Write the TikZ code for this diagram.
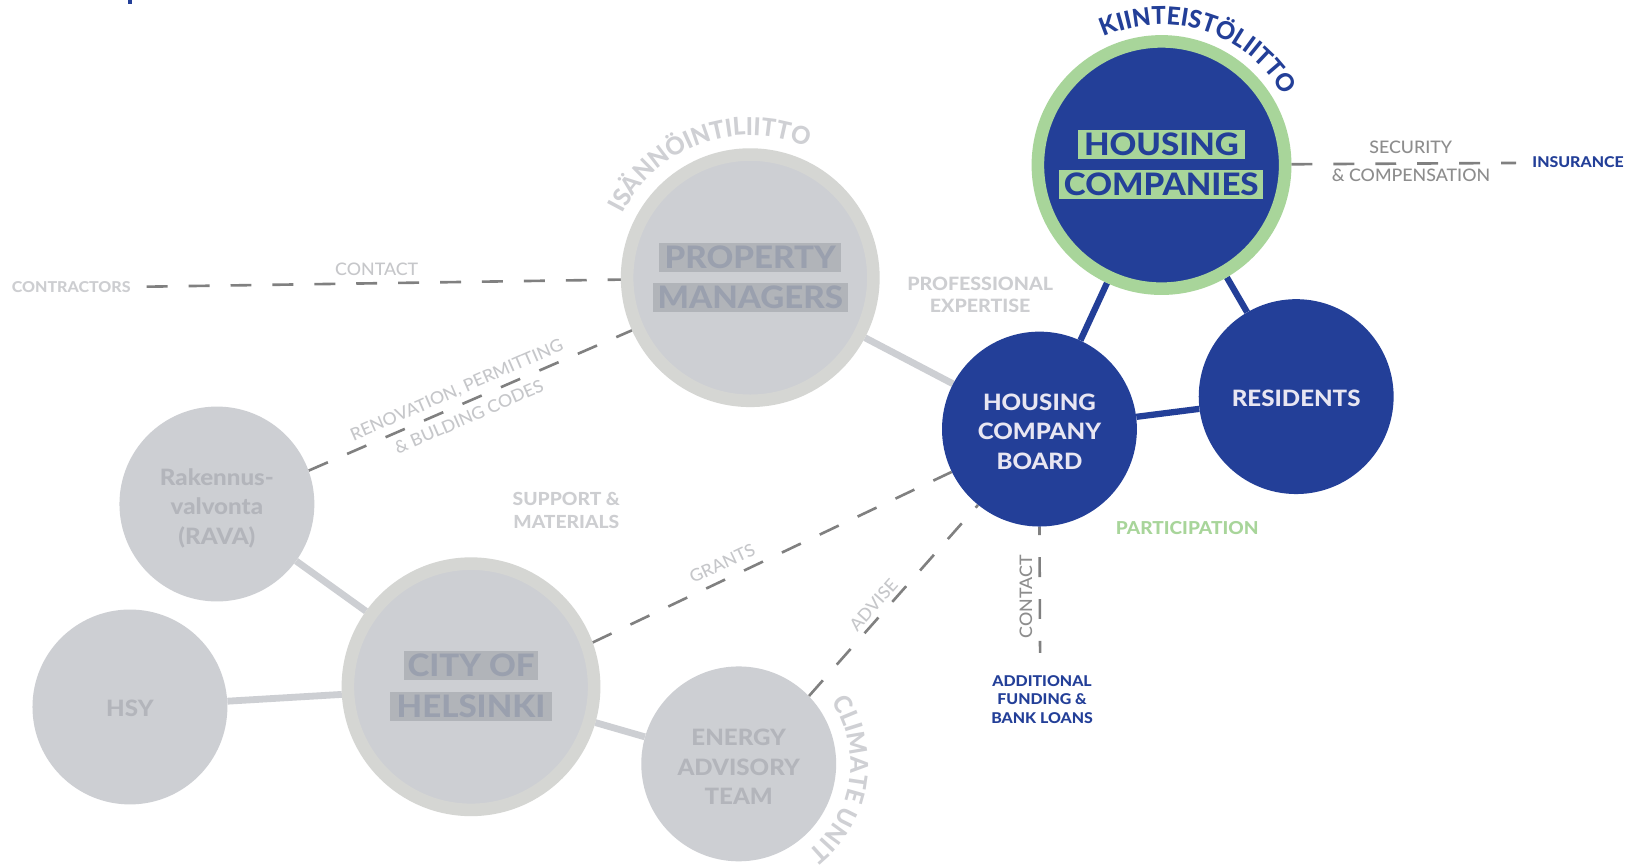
\documentclass[tikz,border=0pt]{standalone}
\usepackage{fontspec}
\setmainfont{Lato}[FakeStretch=1.07, BoldFont={Lato Heavy}]
\newfontfamily\arcfamily{Lato}[FakeStretch=0.97, BoldFont={Lato Heavy}]
\newfontfamily\medfamily{Lato Medium}[FakeStretch=1.03]
\usetikzlibrary{calc,backgrounds,decorations.text}

\definecolor{hcblue}{HTML}{233F98}
\definecolor{hcgreen}{HTML}{A8D59A}
\definecolor{orgfill}{HTML}{CDCFD3}
\definecolor{orgring}{HTML}{D5D6D3}
\definecolor{orgtext}{HTML}{B3B5BB}
\definecolor{boxfill}{HTML}{B1B4B9}
\definecolor{boxtext}{HTML}{9AA0AE}
\definecolor{arclabel}{HTML}{CFD0D4}
\definecolor{paletext}{HTML}{C6C7CA}
\definecolor{palebold}{HTML}{CDCED1}
\definecolor{darklabel}{HTML}{8D8D8D}
\definecolor{dashgray}{HTML}{808080}
\definecolor{boardtext}{HTML}{E8E6F2}

\newcommand\arcfont{\arcfamily\fontsize{23.5}{23.5}\selectfont\bfseries}

\tikzset{
  bluenode/.style={circle, fill=hcblue, minimum size=186pt, inner sep=0pt},
  graynode/.style={circle, fill=orgfill, minimum size=186pt, inner sep=0pt},
  ringnode/.style={circle, fill=orgfill, draw=orgring, line width=12pt,
    minimum size=235pt, inner sep=0pt},
  hcnode/.style={circle, fill=hcblue, draw=hcgreen, line width=12pt,
    minimum size=236pt, inner sep=0pt},
  circletext/.style={inner sep=0pt, align=center,
    font=\fontsize{21.5}{28}\selectfont\bfseries},
  boardlbl/.style={circletext, text=boardtext},
  orglbl/.style={circletext, text=orgtext},
  namebox/.style={inner sep=0pt, minimum height=28pt, text height=21pt, text depth=0pt,
    font=\fontsize{29.5}{29.5}\selectfont\bfseries},
  hcbox/.style={namebox, fill=hcgreen, text=hcblue},
  orgbox/.style={namebox, fill=boxfill, text=boxtext},
  graylink/.style={draw=orgfill, line width=6.5pt},
  bluelink/.style={draw=hcblue, line width=6pt},
  dashlink/.style={draw=dashgray, line width=2.5pt, dash pattern=on 20pt off 20pt},
  lbl/.style={inner sep=0pt, text depth=0pt, text=paletext,
    font=\medfamily\fontsize{16.5}{16.5}\selectfont},
  boldlbl/.style={inner sep=0pt, align=center, text=palebold,
    font=\fontsize{17.5}{21.2}\selectfont\bfseries},
  bluelbl/.style={inner sep=0pt, align=center, text=hcblue,
    font=\fontsize{14.2}{17.5}\selectfont\bfseries},
}

\begin{document}
\begin{tikzpicture}[x=1pt, y=1pt]
\useasboundingbox (0,0) rectangle (1568,-826);

% organisations
\node[hcnode] (HC) at (1108.5,-157.5) {};
\node[hcbox, minimum width=159pt] (hcA) at (1108.4,-137.8) {HOUSING};
\node[hcbox, minimum width=194.5pt] (hcB) at (1108.3,-176) {COMPANIES};

\node[ringnode] (PM) at (716,-265) {};
\node[orgbox, minimum width=174pt] (pmA) at (716,-245.8) {PROPERTY};
\node[orgbox, minimum width=186pt] (pmB) at (716,-284) {MANAGERS};

\node[ringnode] (CH) at (449.5,-655.4) {};
\node[orgbox, minimum width=128pt] (chA) at (449.6,-635) {CITY OF};
\node[orgbox, minimum width=155pt] (chB) at (449.5,-674) {HELSINKI};

\node[bluenode] (HCB) at (992,-409.5) {};
\node[boardlbl] (hcbText) at (992,-412) {HOUSING\\COMPANY\\BOARD};
\node[bluenode] (RES) at (1237,-378.5) {};
\node[boardlbl] (resText) at (1237,-380) {RESIDENTS};
\node[graynode] (RAVA) at (207,-481) {};
\node[orglbl] (ravaText) at (207,-485) {Rakennus-\\valvonta\\(RAVA)};
\node[graynode] (HSY) at (124,-674.7) {};
\node[orglbl] (hsyText) at (124,-676) {HSY};
\node[graynode] (EAT) at (705,-729) {};
\node[orglbl] (eatText) at (705,-732) {ENERGY\\ADVISORY\\TEAM};

% names written round the circles
\path[decorate, decoration={text along path, text align=center,
    text={|\arcfont\color{hcblue}|KIINTEISTÖLIITTO}}]
  ($(HC)+(122:134)$) arc[start angle=122, end angle=22, radius=134pt];
\path[decorate, decoration={text along path, text align=center,
    text={|\arcfont\color{arclabel}|ISÄNNÖINTILIITTO}}]
  ($(PM)+(170:136)$) arc[start angle=170, end angle=50, radius=136pt];
\path[decorate, decoration={text along path, text align=center,
    text={|\arcfont\color{arclabel}|CLIMATE UNIT}}]
  ($(EAT)+(40:106.5)$) arc[start angle=40, end angle=-58, radius=106.5pt];

% free ends of the open connectors
\coordinate (ctrEnd) at (140,-273.6);
\coordinate (insEnd) at (1447,-155.5);
\coordinate (loanEnd) at (992.6,-623);

% labels
\node[boldlbl, font=\fontsize{14.3}{14.3}\selectfont\bfseries] (lContr) at (68,-274) {CONTRACTORS};
\node[lbl] (lContact) at (359.5,-257) {CONTACT};
\node[lbl, rotate=23.5] (lReno) at (435.6,-372) {RENOVATION, PERMITTING};
\node[lbl, rotate=23.5] (lCodes) at (447.5,-397.7) {\& BULDING CODES};
\node[lbl, rotate=25.2] (lGrants) at (689.3,-537.6) {GRANTS};
\node[lbl, rotate=48.3] (lAdvise) at (833.5,-577) {ADVISE};
\node[lbl, text=darklabel, rotate=90] (lContact2) at (979,-569.5) {CONTACT};
\node[lbl, text=darklabel] (lSec) at (1346.3,-140.3) {SECURITY};
\node[lbl, text=darklabel] (lComp) at (1346.6,-167.5) {\& COMPENSATION};
\node[bluelbl] (lIns) at (1506,-155) {INSURANCE};
\node[boldlbl] (lProf) at (935.4,-281.4) {PROFESSIONAL\\EXPERTISE};
\node[boldlbl, font=\fontsize{17.2}{22}\selectfont\bfseries] (lSupp) at (540.5,-487) {SUPPORT \&\\MATERIALS};
\node[boldlbl, text=hcgreen, font=\fontsize{17}{17}\selectfont\bfseries] (lPart) at (1133,-503.8) {PARTICIPATION};
\node[bluelbl] (lLoans) at (994.5,-667.5) {ADDITIONAL\\FUNDING \&\\BANK LOANS};

% clipped mark at the top edge
\fill[hcblue] (122,0) rectangle (125.5,-3.5);

% connectors, behind the circles
\begin{scope}[on background layer]
\fill[white] (0,0) rectangle (1568,-826);
\draw[graylink] (PM) -- (HCB);
\draw[graylink] (RAVA) -- (CH);
\draw[graylink] (HSY) -- (CH);
\draw[graylink] (CH) -- (EAT);
\draw[bluelink] (HC) -- (HCB);
\draw[bluelink] (HC) -- (RES);
\draw[bluelink] (HCB) -- (RES);
\draw[dashlink] (ctrEnd) -- (PM);
\draw[dashlink] (RAVA.20) -- (PM.204);
\draw[dashlink] (CH.20) -- (HCB.206);
\draw[dashlink] (EAT.44) -- (HCB.231);
\draw[dashlink, dash pattern=on 19pt off 21pt, dash phase=11pt] (HCB.south) -- (loanEnd);
\draw[dashlink] (HC) -- (insEnd);
\end{scope}
\end{tikzpicture}
\end{document}
